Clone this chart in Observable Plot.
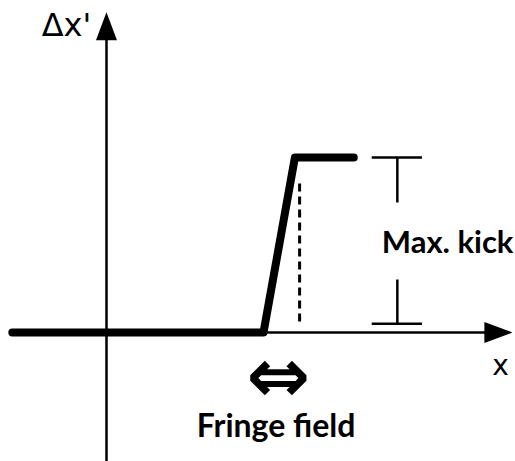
<!DOCTYPE html>
<html>
<head>
<meta charset="utf-8">
<script src="https://cdn.jsdelivr.net/npm/d3@7"></script>
<script src="https://cdn.jsdelivr.net/npm/@observablehq/plot@0.6"></script>
<style>
  html, body { margin: 0; padding: 0; background: #fff; }
</style>
</head>
<body>
<div id="chart"></div>
<script>
// Schematic: kick vs position through fringe field (arbitrary units)
const curveX = [-2.4, 4, 4.8, 6.3];
const curveY = [0, 0, 1, 1];
const fieldEndX = [4.92];
const dashY = [0.06, 0.87];
const xAxisRange = [-2.4, 10.34];
const yAxisRange = [-0.74, 1.83];
const kickX = [7.41];
const kickBarHalf = [0.64];
const kickTop = [1.0, 0.74];
const kickBottom = [0.05, 0.3];
const labels = [
  {text: "Δx'", x: -1.02, y: 1.75, weight: "normal", size: 32, font: "DejaVu Sans"},
  {text: "x", x: 10.04, y: -0.19, weight: "normal", size: 28, font: "DejaVu Sans"},
  {text: "Max. kick", x: 8.69, y: 0.511, weight: "bold", size: 31, font: "Lato"},
  {text: "⇔", x: 4.38, y: -0.257, weight: "bold", size: 76, font: "DejaVu Sans"},
  {text: "Fringe field", x: 4.32, y: -0.537, weight: "bold", size: 32, font: "Lato"}
];

const curve = curveX.map((x, i) => ({x, y: curveY[i]}));

const arrowHead = {
  draw(ctx, size) {
    ctx.moveTo(0, 0);
    ctx.lineTo(-10.5, 28);
    ctx.lineTo(10.5, 28);
    ctx.closePath();
  }
};

const chart = Plot.plot({
  width: 515,
  height: 461,
  margin: 0,
  x: {domain: [-2.7006, 10.4204], axis: null},
  y: {domain: [-0.7371, 1.8971], axis: null},
  style: {background: "#fff", overflow: "visible"},
  marks: [
    // axes
    Plot.ruleY([0], {x1: xAxisRange[0], x2: xAxisRange[1] - 0.3, stroke: "black", strokeWidth: 2.5}),
    Plot.ruleX([0], {y1: yAxisRange[0], y2: yAxisRange[1] - 0.1, stroke: "black", strokeWidth: 2.5}),
    Plot.dot([{x: xAxisRange[1], y: 0}], {x: "x", y: "y", symbol: arrowHead, r: 10, fill: "black", stroke: "none", rotate: 90}),
    Plot.dot([{x: 0, y: yAxisRange[1]}], {x: "x", y: "y", symbol: arrowHead, r: 10, fill: "black", stroke: "none"}),
    // dashed line at end of fringe field
    Plot.ruleX(fieldEndX, {y1: dashY[0], y2: dashY[1], stroke: "black", strokeWidth: 3, strokeDasharray: "8,5"}),
    // kick curve
    Plot.line(curve, {x: "x", y: "y", stroke: "black", strokeWidth: 8, strokeLinecap: "round", strokeLinejoin: "round"}),
    // Max kick bracket
    Plot.ruleY([kickTop[0]], {x1: kickX[0] - kickBarHalf[0], x2: kickX[0] + kickBarHalf[0], stroke: "black", strokeWidth: 2.5}),
    Plot.ruleX(kickX, {y1: kickTop[0], y2: kickTop[1], stroke: "black", strokeWidth: 2.5}),
    Plot.ruleY([kickBottom[0]], {x1: kickX[0] - kickBarHalf[0], x2: kickX[0] + kickBarHalf[0], stroke: "black", strokeWidth: 2.5}),
    Plot.ruleX(kickX, {y1: kickBottom[0], y2: kickBottom[1], stroke: "black", strokeWidth: 2.5}),
    // labels
    ...labels.map(d => Plot.text([d], {
      x: "x", y: "y", text: "text", fontSize: d.size, fontWeight: d.weight,
      fontFamily: d.font, fill: "black", textAnchor: "middle", lineAnchor: "middle"
    }))
  ]
});
document.getElementById("chart").appendChild(chart);
</script>
</body>
</html>
